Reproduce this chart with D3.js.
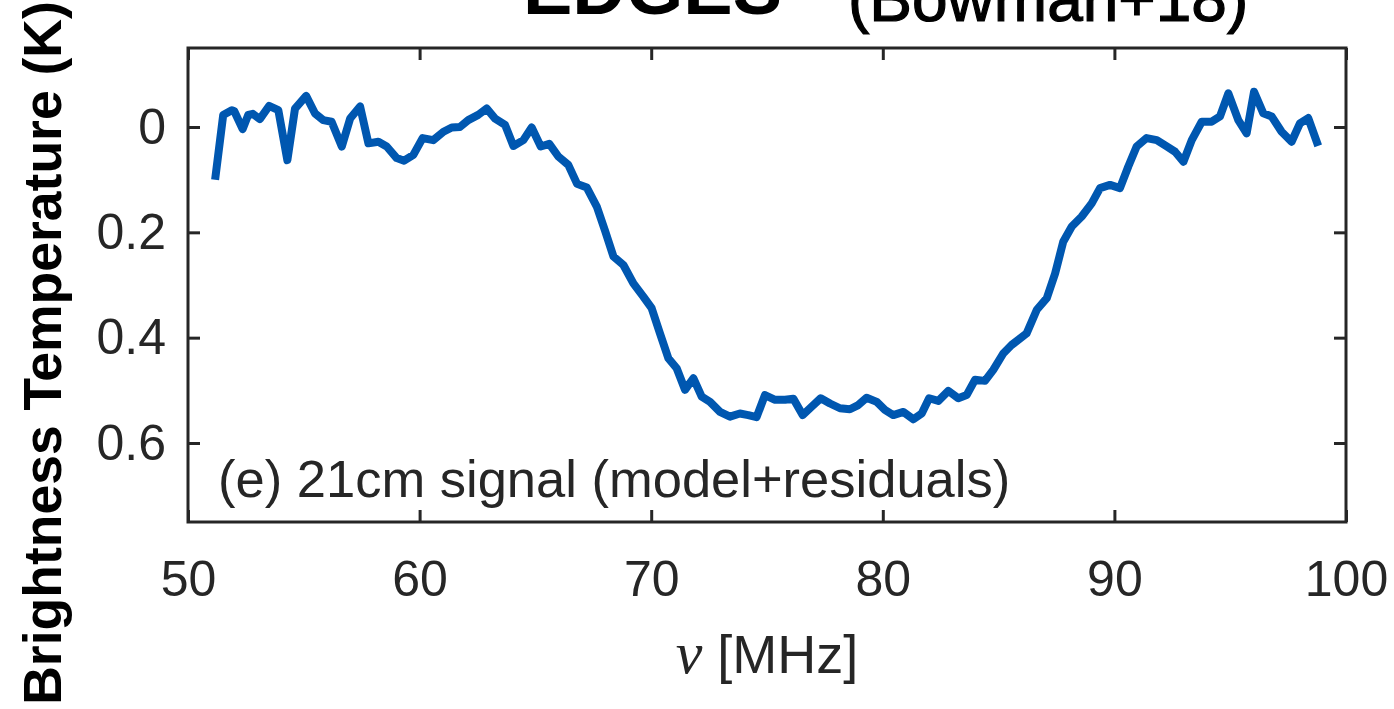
<!DOCTYPE html>
<html>
<head>
<meta charset="utf-8">
<script src="https://cdn.jsdelivr.net/npm/d3@7"></script>
<style>
  html, body { margin: 0; padding: 0; background: #fff; overflow: hidden; }
  svg { display: block; font-family: "Liberation Sans", Arial, sans-serif; }
</style>
</head>
<body>
<div id="chart"></div>
<script>
// frequency (MHz) and brightness temperature (K)
const freq = [51.17, 51.52, 51.89, 52.0, 52.36, 52.6, 52.8, 53.1, 53.5, 53.9, 54.29, 54.62, 55.1, 55.48,
  55.84, 56.2, 56.64, 57.0, 57.43, 57.79, 58.22, 58.58, 59.01, 59.33, 59.73, 60.13, 60.59, 61.03,
  61.39, 61.74, 62.1, 62.53, 62.9, 63.26, 63.69, 64.05, 64.48, 64.84, 65.23, 65.6, 65.99, 66.42,
  66.8, 67.22, 67.65, 68.0, 68.37, 68.8, 69.23, 69.66, 70.02, 70.38, 70.74, 71.1, 71.46, 71.82,
  72.18, 72.54, 72.97, 73.4, 73.83, 74.19, 74.55, 74.91, 75.35, 75.78, 76.14, 76.54, 76.93, 77.32,
  77.72, 78.15, 78.58, 78.94, 79.3, 79.74, 80.09, 80.45, 80.89, 81.32, 81.68, 82.0, 82.4, 82.83,
  83.26, 83.62, 83.98, 84.41, 84.77, 85.2, 85.56, 86.21, 86.65, 87.08, 87.44, 87.79, 88.16, 88.59,
  89.02, 89.38, 89.81, 90.24, 90.6, 90.96, 91.39, 91.83, 92.26, 92.62, 92.98, 93.34, 93.77, 94.2,
  94.56, 94.92, 95.35, 95.71, 96.03, 96.43, 96.79, 97.22, 97.65, 98.01, 98.37, 98.8];
const temp = [0.100, -0.023, -0.032, -0.030, 0.004, -0.023, -0.025, -0.015, -0.040, -0.032, 0.063, -0.035, -0.059, -0.026,
  -0.013, -0.010, 0.037, -0.016, -0.039, 0.031, 0.028, 0.037, 0.059, 0.064, 0.053, 0.021, 0.025, 0.009,
  0.001, 0.000, -0.013, -0.023, -0.035, -0.016, -0.004, 0.036, 0.025, 0.001, 0.037, 0.032, 0.056, 0.072,
  0.108, 0.115, 0.151, 0.196, 0.246, 0.262, 0.297, 0.322, 0.344, 0.392, 0.439, 0.458, 0.499, 0.477,
  0.512, 0.522, 0.541, 0.550, 0.544, 0.547, 0.551, 0.509, 0.518, 0.518, 0.516, 0.547, 0.531, 0.515,
  0.525, 0.534, 0.536, 0.528, 0.514, 0.522, 0.537, 0.547, 0.541, 0.555, 0.544, 0.515, 0.520, 0.501,
  0.515, 0.509, 0.480, 0.482, 0.461, 0.430, 0.414, 0.392, 0.347, 0.325, 0.278, 0.218, 0.189, 0.170,
  0.145, 0.116, 0.110, 0.116, 0.075, 0.037, 0.021, 0.025, 0.037, 0.047, 0.066, 0.025, -0.010, -0.010,
  -0.020, -0.064, -0.013, 0.012, -0.067, -0.026, -0.020, 0.009, 0.028, -0.007, -0.017, 0.036];

const xTicks = [50, 60, 70, 80, 90, 100];
const yTicks = [0, 0.2, 0.4, 0.6];

const width = 1394, height = 709;
const plot = { left: 188, right: 1346, top: 48, bottom: 522 };
const ink = "#262626";
const blue = "#0057b0";

const svg = d3.select("#chart")
  .append("svg")
  .attr("width", width)
  .attr("height", height);

const x = d3.scaleLinear().domain([50, 100]).range([plot.left, plot.right]);
const y = d3.scaleLinear().domain([-0.15, 0.75]).range([plot.top, plot.bottom]);

const tickLen = 12;

// bottom axis with labels
svg.append("g")
  .attr("transform", `translate(0, ${plot.bottom})`)
  .call(d3.axisBottom(x).tickValues(xTicks).tickSizeInner(-tickLen).tickSizeOuter(0).tickPadding(38)
    .tickFormat(d3.format("d")))
  .call(g => g.select(".domain").remove())
  .call(g => g.selectAll("line").attr("stroke", ink).attr("stroke-width", 3))
  .call(g => g.selectAll("text").attr("fill", ink).attr("font-size", 50));

// top ticks
svg.append("g")
  .attr("transform", `translate(0, ${plot.top})`)
  .call(d3.axisTop(x).tickValues(xTicks).tickSizeInner(-tickLen).tickSizeOuter(0).tickFormat(""))
  .call(g => g.select(".domain").remove())
  .call(g => g.selectAll("line").attr("stroke", ink).attr("stroke-width", 3));

// left axis with labels
svg.append("g")
  .attr("transform", `translate(${plot.left}, 0)`)
  .call(d3.axisLeft(y).tickValues(yTicks).tickSizeInner(-tickLen).tickSizeOuter(0).tickPadding(22)
    .tickFormat(d => d === 0 ? "0" : d3.format(".1f")(d)))
  .call(g => g.select(".domain").remove())
  .call(g => g.selectAll("line").attr("stroke", ink).attr("stroke-width", 3))
  .call(g => g.selectAll("text").attr("fill", ink).attr("font-size", 50));

// right ticks
svg.append("g")
  .attr("transform", `translate(${plot.right}, 0)`)
  .call(d3.axisRight(y).tickValues(yTicks).tickSizeInner(-tickLen).tickSizeOuter(0).tickFormat(""))
  .call(g => g.select(".domain").remove())
  .call(g => g.selectAll("line").attr("stroke", ink).attr("stroke-width", 3));

// data line
const line = d3.line()
  .x((d, i) => x(freq[i]))
  .y((d, i) => y(temp[i]));

svg.append("path")
  .datum(temp)
  .attr("d", line)
  .attr("fill", "none")
  .attr("stroke", blue)
  .attr("stroke-width", 8)
  .attr("stroke-linejoin", "round")
  .attr("stroke-linecap", "butt");

// box
svg.append("rect")
  .attr("x", plot.left)
  .attr("y", plot.top)
  .attr("width", plot.right - plot.left)
  .attr("height", plot.bottom - plot.top)
  .attr("fill", "none")
  .attr("stroke", ink)
  .attr("stroke-width", 3);

// panel annotation
svg.append("text")
  .attr("x", 218)
  .attr("y", 497)
  .attr("fill", ink)
  .attr("font-size", 52.5)
  .text("(e) 21cm signal (model+residuals)");

// x axis label
const xl = svg.append("text")
  .attr("x", (plot.left + plot.right) / 2)
  .attr("y", 673)
  .attr("text-anchor", "middle")
  .attr("fill", ink)
  .attr("font-size", 54);
xl.append("tspan").attr("font-family", "'Liberation Serif', serif").attr("font-style", "italic")
  .attr("font-size", 60).text("ν");
xl.append("tspan").text(" [MHz]");

// y axis label
svg.append("text")
  .attr("transform", "rotate(-90)")
  .attr("x", -353)
  .attr("y", 61)
  .attr("text-anchor", "middle")
  .attr("font-weight", "bold")
  .attr("font-size", 53.5)
  .attr("fill", "#000")
  .text("Brightness Temperature (K)");

// title, clipped at the top edge
svg.append("text")
  .attr("x", 523)
  .attr("y", 14)
  .attr("font-weight", "bold")
  .attr("font-size", 74)
  .attr("fill", "#000")
  .text("EDGES");

svg.append("text")
  .attr("x", 848)
  .attr("y", 21)
  .attr("font-size", 64)
  .attr("stroke", "#000")
  .attr("stroke-width", 1.2)
  .attr("fill", "#000")
  .text("(Bowman+18)");
</script>
</body>
</html>
